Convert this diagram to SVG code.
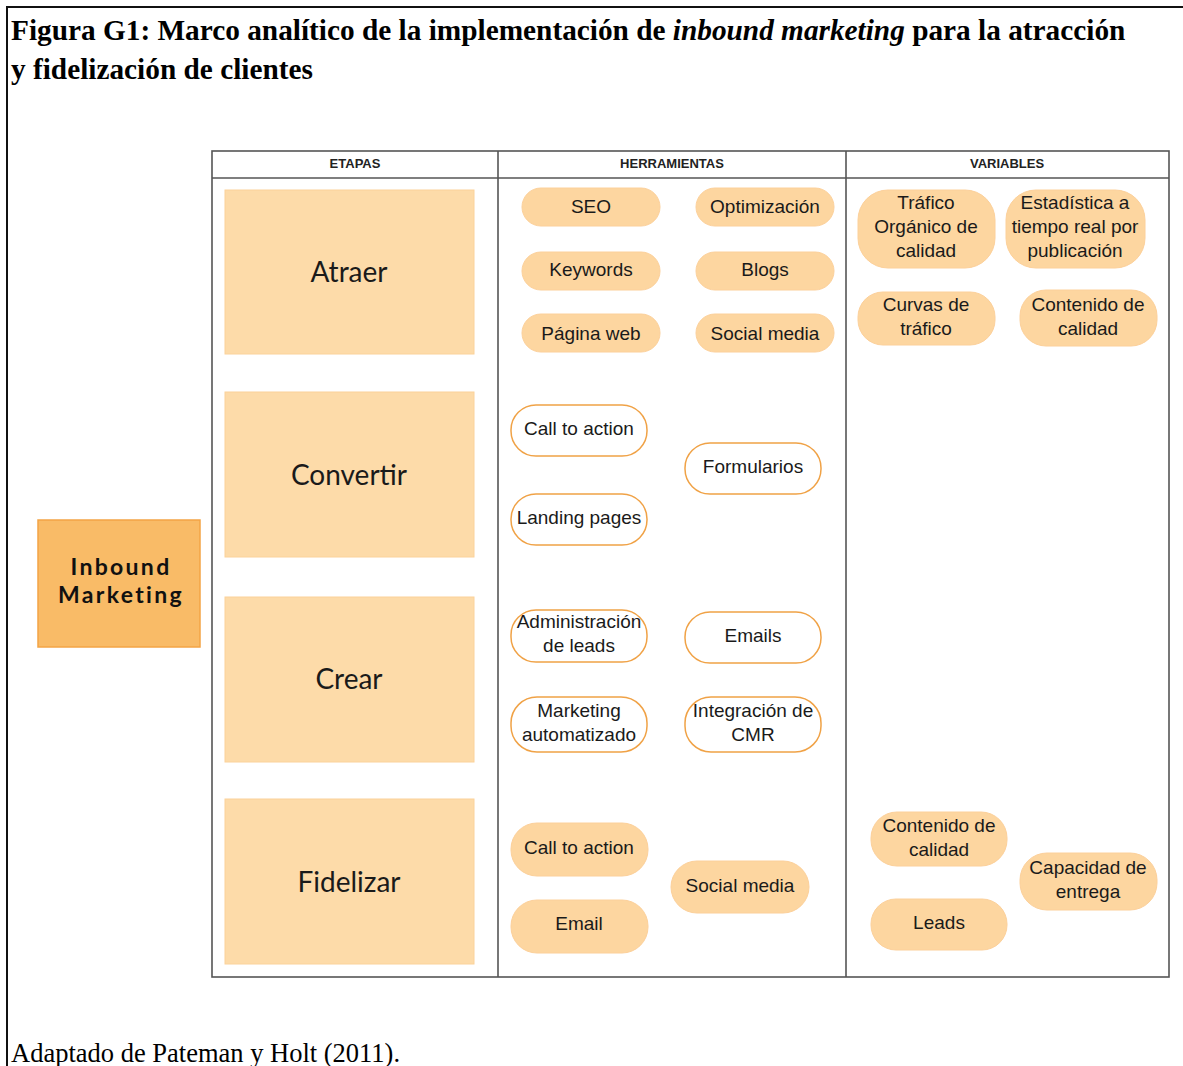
<svg xmlns="http://www.w3.org/2000/svg" width="1183" height="1066" viewBox="0 0 1183 1066">
<style>
.title{font-family:"Liberation Serif",serif;font-weight:bold;font-size:29.3px;fill:#000}
.foot{font-family:"Liberation Serif",serif;font-size:26.5px;fill:#000}
.hdr{font-family:"Liberation Sans",Arial,sans-serif;font-weight:bold;font-size:13px;fill:#222;text-anchor:middle}
.grid{fill:none;stroke:#555;stroke-width:1.6}
.stage{fill:#FDDBA9;stroke:#FBD29A;stroke-width:1}
.stxt{font-family:Lato,sans-serif;font-size:28px;fill:#1a1a1a;text-anchor:middle}
.main{fill:#F9BB67;stroke:#F3A445;stroke-width:1.5}
.mtxt{font-family:Lato,sans-serif;font-weight:bold;font-size:23px;letter-spacing:2.3px;fill:#111;text-anchor:middle}
.pf{fill:#FDD6A0;stroke:#FCD09A;stroke-width:1}
.po{fill:#fff;stroke:#F0A246;stroke-width:1.5}
.pt{font-family:"Liberation Sans",Arial,sans-serif;font-size:19px;fill:#1a1a1a;text-anchor:middle}
</style>
<rect width="1183" height="1066" fill="#fff"/>
<g id="frame">
<line x1="6" y1="7" x2="1183" y2="7" stroke="#111" stroke-width="2"/>
<line x1="7" y1="6" x2="7" y2="1066" stroke="#111" stroke-width="2"/>
</g>
<g id="title">
<text class="title" x="11" y="40">Figura G1: Marco analítico de la implementación de <tspan font-style="italic">inbound marketing</tspan> para la atracción</text>
<text class="title" x="11" y="79">y fidelización de clientes</text>
</g>
<g id="table">
<rect class="grid" x="212" y="151" width="957" height="826"/>
<line class="grid" x1="212" y1="178" x2="1169" y2="178"/>
<line class="grid" x1="498" y1="151" x2="498" y2="977"/>
<line class="grid" x1="846" y1="151" x2="846" y2="977"/>
<text class="hdr" x="355" y="168">ETAPAS</text>
<text class="hdr" x="672" y="168">HERRAMIENTAS</text>
<text class="hdr" x="1007" y="168">VARIABLES</text>
</g>
<g id="inbound-marketing">
<rect class="main" x="38" y="520" width="162" height="127"/>
<text class="mtxt" x="121" y="575">Inbound</text>
<text class="mtxt" x="121" y="603">Marketing</text>
</g>
<g id="stage-atraer">
<rect class="stage" x="225" y="190" width="249" height="164"/>
<text class="stxt" x="349" y="282">Atraer</text>
</g>
<g id="stage-convertir">
<rect class="stage" x="225" y="392" width="249" height="165"/>
<text class="stxt" x="349" y="485">Convertir</text>
</g>
<g id="stage-crear">
<rect class="stage" x="225" y="597" width="249" height="165"/>
<text class="stxt" x="349" y="689">Crear</text>
</g>
<g id="stage-fidelizar">
<rect class="stage" x="225" y="799" width="249" height="165"/>
<text class="stxt" x="349" y="892">Fidelizar</text>
</g>
<g id="h-seo"><rect class="pf" x="522" y="188" width="138" height="38" rx="19"/><text class="pt" x="591" y="213">SEO</text></g>
<g id="h-optimizacion"><rect class="pf" x="696" y="188" width="138" height="38" rx="19"/><text class="pt" x="765" y="213">Optimización</text></g>
<g id="h-keywords"><rect class="pf" x="522" y="252" width="138" height="38" rx="19"/><text class="pt" x="591" y="276">Keywords</text></g>
<g id="h-blogs"><rect class="pf" x="696" y="252" width="138" height="38" rx="19"/><text class="pt" x="765" y="276">Blogs</text></g>
<g id="h-pagina-web"><rect class="pf" x="522" y="314" width="138" height="38" rx="19"/><text class="pt" x="591" y="340">Página web</text></g>
<g id="h-social-media"><rect class="pf" x="696" y="314" width="138" height="38" rx="19"/><text class="pt" x="765" y="340">Social media</text></g>
<g id="v-trafico"><rect class="pf" x="858" y="190" width="137" height="78" rx="30"/><text class="pt" x="926" y="209">Tráfico</text><text class="pt" x="926" y="233">Orgánico de</text><text class="pt" x="926" y="257">calidad</text></g>
<g id="v-estadistica"><rect class="pf" x="1006" y="190" width="139" height="78" rx="30"/><text class="pt" x="1075" y="209">Estadística a</text><text class="pt" x="1075" y="233">tiempo real por</text><text class="pt" x="1075" y="257">publicación</text></g>
<g id="v-curvas"><rect class="pf" x="858" y="292" width="137" height="53" rx="25"/><text class="pt" x="926" y="311">Curvas de</text><text class="pt" x="926" y="335">tráfico</text></g>
<g id="v-contenido1"><rect class="pf" x="1020" y="290" width="137" height="56" rx="26"/><text class="pt" x="1088" y="311">Contenido de</text><text class="pt" x="1088" y="335">calidad</text></g>
<g id="h-cta1"><rect class="po" x="511" y="405" width="136" height="51" rx="25"/><text class="pt" x="579" y="435">Call to action</text></g>
<g id="h-formularios"><rect class="po" x="685" y="443" width="136" height="51" rx="25"/><text class="pt" x="753" y="473">Formularios</text></g>
<g id="h-landing"><rect class="po" x="511" y="494" width="136" height="51" rx="25"/><text class="pt" x="579" y="524">Landing pages</text></g>
<g id="h-admin-leads"><rect class="po" x="511" y="610" width="136" height="52" rx="25"/><text class="pt" x="579" y="628">Administración</text><text class="pt" x="579" y="652">de leads</text></g>
<g id="h-emails"><rect class="po" x="685" y="612" width="136" height="51" rx="25"/><text class="pt" x="753" y="642">Emails</text></g>
<g id="h-marketing-auto"><rect class="po" x="511" y="697" width="136" height="55" rx="26"/><text class="pt" x="579" y="717">Marketing</text><text class="pt" x="579" y="741">automatizado</text></g>
<g id="h-cmr"><rect class="po" x="685" y="697" width="136" height="55" rx="26"/><text class="pt" x="753" y="717">Integración de</text><text class="pt" x="753" y="741">CMR</text></g>
<g id="h-cta2"><rect class="pf" x="511" y="823" width="137" height="53" rx="26"/><text class="pt" x="579" y="854">Call to action</text></g>
<g id="h-email"><rect class="pf" x="511" y="900" width="137" height="53" rx="26"/><text class="pt" x="579" y="930">Email</text></g>
<g id="h-social2"><rect class="pf" x="671" y="861" width="138" height="52" rx="26"/><text class="pt" x="740" y="892">Social media</text></g>
<g id="v-contenido2"><rect class="pf" x="871" y="812" width="136" height="54" rx="26"/><text class="pt" x="939" y="832">Contenido de</text><text class="pt" x="939" y="856">calidad</text></g>
<g id="v-leads"><rect class="pf" x="871" y="899" width="136" height="51" rx="25"/><text class="pt" x="939" y="929">Leads</text></g>
<g id="v-capacidad"><rect class="pf" x="1020" y="853" width="137" height="57" rx="27"/><text class="pt" x="1088" y="874">Capacidad de</text><text class="pt" x="1088" y="898">entrega</text></g>
<g id="connectors"></g>
<text class="foot" x="11" y="1062">Adaptado de Pateman y Holt (2011).</text>
</svg>
